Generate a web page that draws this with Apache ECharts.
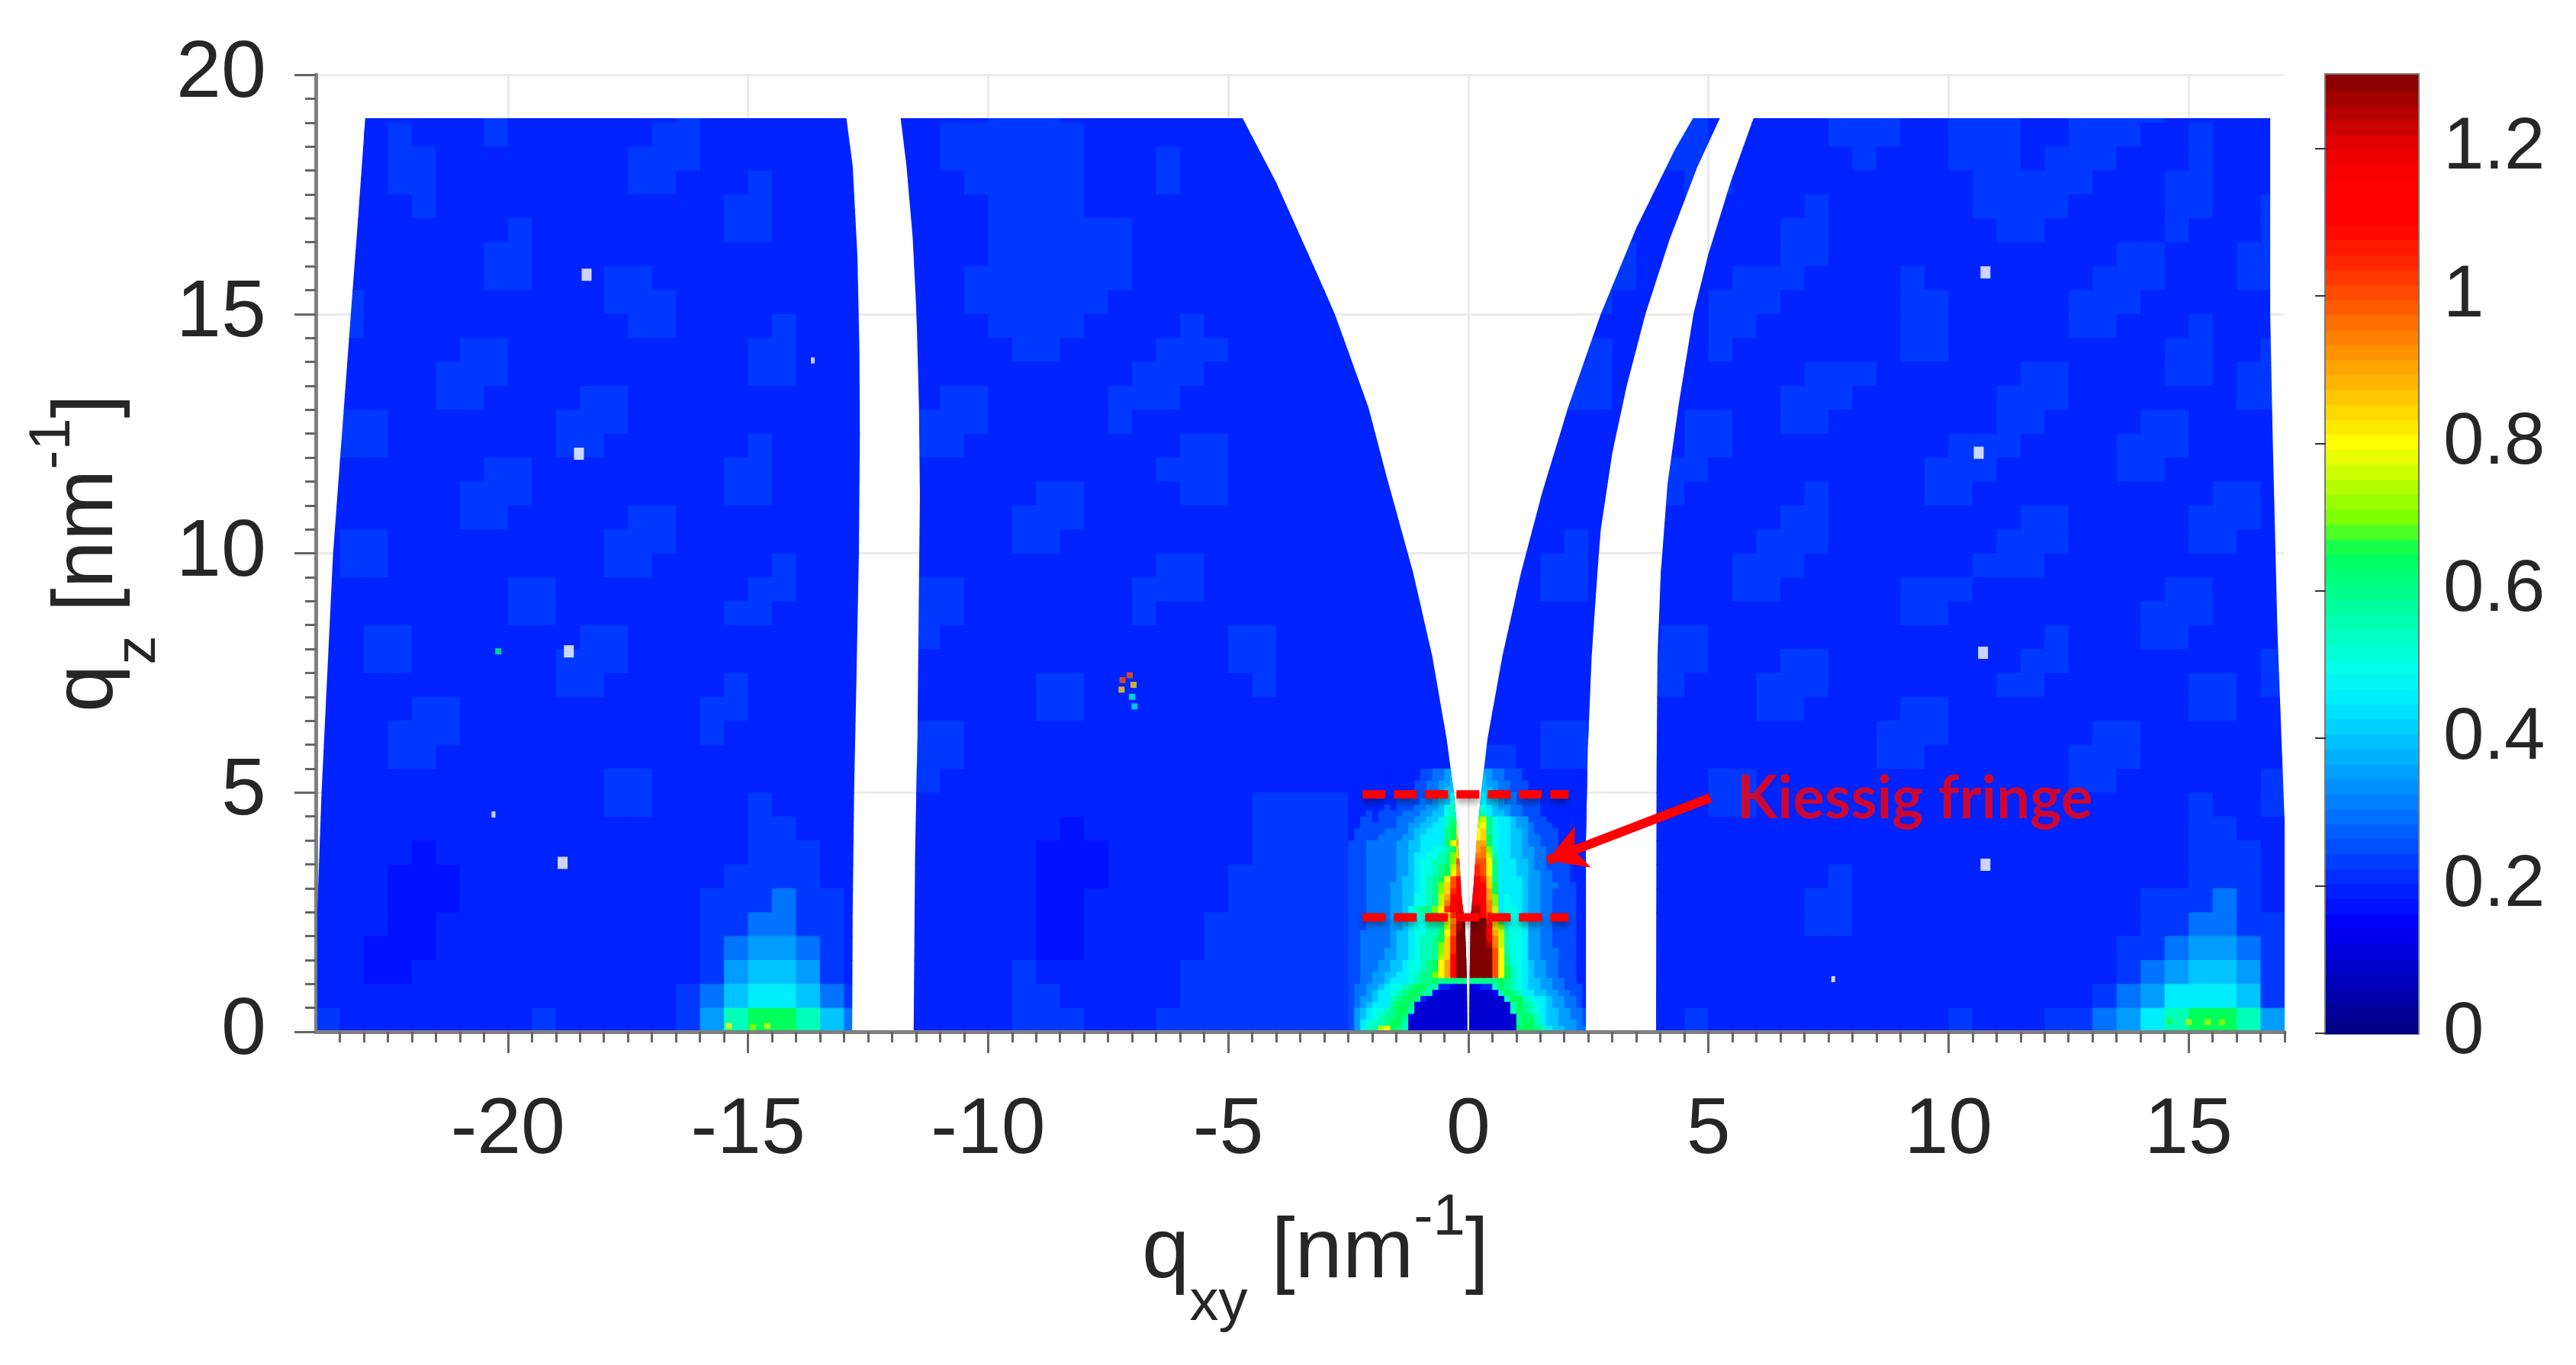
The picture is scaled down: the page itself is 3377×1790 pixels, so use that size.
<!DOCTYPE html>
<html><head><meta charset="utf-8">
<style>html,body{margin:0;padding:0;background:#fff}#c{width:3377px;height:1790px}</style>
<script src="https://cdn.jsdelivr.net/npm/echarts@6/dist/echarts.min.js"></script>
</head><body><div id="c"></div>
<script>
// Estimated mean intensity, one char per cell, top row first.
// Coarse map: 0.5 x 0.5 nm^-1 cells, x from -24, top row is y 19 to 19.5.
const bgLevels = {3:0.175,4:0.2,5:0.225,6:0.3,7:0.35,8:0.4,9:0.45,a:0.5,b:0.55,c:0.6,d:0.65};
const bgRows = [
"4444444544 4444454444 4444444455 5444444444 4444444444 4444445544 4445554455 5445555444 44",
"4445444544 4444554444 4444445555 5544444444 4444444444 4444445544 4445554455 5445554454 44",
"4445544444 4445554444 4444445555 5544454444 4444444444 4444445554 4444544455 5455544454 44",
"4445544444 4445544454 4444444555 5544454444 4444444444 4444444554 4444444445 5555444554 44",
"4444544444 4444444554 4444444455 5544444444 4444444444 4444444544 4454444445 5554444554 45",
"4444444454 4444444554 4444444455 5555444444 4444444444 4444444444 4554444444 5544444544 45",
"4444444554 4444444444 4444444455 5555444444 4444444444 4445544444 4554444444 4444455444 55",
"5444444554 4455444444 4444444555 5555444444 4444444444 4455544445 5544445444 4444555444 55",
"5544444444 4455544444 4444444555 5554444444 4444444444 4455444455 5444445544 4445554444 44",
"5544444444 4445544445 4444444455 5544445444 4444444444 4444444455 4444445544 4445544454 44",
"4444445544 4444444455 4444444445 5444455544 4444444444 4445444454 4444445544 4444444554 45",
"4444455544 4444444455 4444444444 4444555444 4444444444 4455444444 4455544444 4554444554 55",
"4444455444 4554444444 4444445544 4445554444 4444444444 4455444444 4555444444 5554444444 55",
"4554444444 5554444444 4444455544 4445444444 4444444444 4444444554 4554444444 5544445544 44",
"4554444444 5544444454 4444455444 4444445544 4444444444 4444444554 4444444455 5444455544 44",
"4444444554 4444444554 4444444444 4444455544 4444444444 4444455544 4444444555 4444455444 44",
"4444445554 4444444554 4444444444 5544445544 4444444444 4444455444 4454444554 4444444445 54",
"4444445544 4445544444 4444444445 5544444444 4444444444 4444444444 4554444444 4554444455 54",
"4554444444 4455544444 4444444445 5444444444 4444444444 4454444444 5554444444 5554444455 44",
"4554444444 4455444445 4444444444 4444455444 4444444444 4554444445 5544444445 5544444444 44",
"4444444455 4444444455 4444455444 4444555444 4444444444 4554444445 5444445554 4444444554 44",
"4444444455 4444444554 4444555444 4444544444 4444444444 4444444444 4444445544 4444445554 44",
"4455444444 4554444444 4444554444 4444444455 4444444444 4444445544 4444444444 4454445544 44",
"4455444444 5554444444 4444444444 4444444455 4444444444 4444455544 4554444444 4554444444 45",
"4444444444 5544444544 4444444444 5544444445 4444444444 4444455444 5554444444 5544444455 45",
"4444554444 4444445544 4444444444 5544444444 4444444444 4444444444 5544445544 4444444455 44",
"4445554444 4444445444 4444455444 4444444444 4444444444 4554444444 4444455544 4444554444 44",
"4445544444 4444444444 4444555444 4444444444 4444444455 4554444444 4444455444 4445554444 44",
"4444444444 4455444444 4444554444 4444444444 4444445555 4444444455 4444444444 4445544444 45",
"4444444444 4455444454 4444444444 4444444445 5555555555 4444444455 4444444444 4444444454 45",
"4444444444 4444444455 4444444444 4344444445 5555555555 4444444444 4444444444 4444444455 44",
"4444344444 4444444455 5444444444 3334444445 5555555555 4444444444 4444444444 4444444455 54",
"4443334444 4444444555 5444444444 3334444455 5555555555 4444444444 4445444444 4444444455 54",
"4443334444 4444445556 5544444444 3344444455 5555555555 4444444444 4455444444 4444445556 54",
"4443344444 4444445566 5544444444 3344444555 5555555555 4444444444 4455444444 4444445566 55",
"4433344444 4444445677 6544444444 3344444555 5555555555 4445444444 4444444444 4444455677 65",
"4433444444 4444445788 7544444445 4444445555 5555555555 4455444444 4444444444 4444456788 75",
"4444444444 4444456899 8654444445 5444445555 5555555555 4455444444 4444444444 4444567999 85",
"5444444445 4444457bdd b865444445 5544455555 5555555555 5444444544 4444444454 4455679bdd b7"
];
// Fine map near the beam: 0.125 x 0.125 nm^-1 cells, x from -2.5, top row is y 5.375 to 5.5.
// One char = value / 0.05 in base 36.
const hotRows = [
"4444444444 4455667799 9977665554 4444444444",
"4444444444 4455667889 9887665554 4444444444",
"4444444444 4556677899 a987766555 4444444444",
"4444444444 4556678899 a988766555 4444444444",
"4444444445 4556778aab ba98776655 5444444444",
"4444444455 5566788aac ca98876655 5544444444",
"4444445455 566778abcd dca9877665 5544444444",
"4445455556 667788abde edb9887665 5544444444",
"4455455566 677889bcef eefca99877 5554444444",
"4455555566 778899bdfg ffgca99877 6555444444",
"4555556666 788999cdgh gghca99887 6555544444",
"4555566667 789999cdhh gghda99887 6655544444",
"5556666677 889999dgii hiida99887 6655544444",
"5556666677 8899aabdhi iijea99887 7665554444",
"5556666677 899aabcehj jjjfb99887 7665554444",
"5556666677 89aabbcekk kkkgc99988 7665555444",
"5556666677 89aabcdfjl llkgc99988 7665555444",
"5556666677 89aabcdgjl llkgc99988 7766555444",
"5556666678 89abcdgkmm mmlhc99998 7766555444",
"5556666778 89abcehkmn mmmhd99998 7766655544",
"5556666778 89abcehlmn nnmid99998 7766555544",
"5556666778 8aabcfimnn nnnie9a998 7766555544",
"5556666778 8aabcfjnoo oonje9a998 7766555544",
"5556666778 abcceglnoo ppnjf9aa98 7766555544",
"5556666778 9abcdfhlpp qpnkf9aa98 7766555544",
"5556666778 9aabbcfjoq qqqlhdaaa9 7766555544",
"5556666778 9aabbcfkpq qqqmheaaa9 7766555544",
"5566666788 9aabbdgkqq qqqnifbaa9 7766555544",
"5566666788 9abbcdhlqq qqqojfbaa9 7766555544",
"5566666788 9abbcehlqq qqqpjfbaa9 7766555544",
"5566667788 9abbcehlqq qqqqkgbaa9 7766655544",
"5566667788 9abbcfhmqq qqqqkgcaa9 7766655544",
"5566677889 aabcdgimqq qqqqkgcaa9 8776655544",
"5566677889 aabcdgimqq qqqqkgdba9 8776655544",
"5566778899 abccegimqq qqqqkgdba9 8776655544",
"5566778999 abccdccccc cccccdcba9 8877665544",
"5667789aab cddcb44322 2344bdcba9 8877665554",
"5667899abc ddcb322222 22223bdcb9 9887766554",
"5677899bcd dc42222222 222222bddb a998776654",
"5678999cdd c322222222 2222222bdc ba98776654",
"5789aabcdd b222222222 2222222bdc ba98877665",
"5789abccdc 3222222222 22222222cd cb98877665",
"579abbcddb 2222222222 22222222cd db98877765",
"579bbfgdcb 2222222222 22222222dd dcb9887766"
];
// Detector panel outlines [qxy, qz].
const panel1 = [[-23.97,0.03],[-23.97,2.5],[-23.88,5],[-23.64,10],[-23.27,15],[-23.12,17],[-22.97,19.09],[-12.95,19.09],[-12.82,18.1],[-12.72,16.2],[-12.68,14.3],[-12.67,12.5],[-12.69,10],[-12.74,7.45],[-12.79,5],[-12.82,2.45],[-12.83,0.03]];
const panel2 = [[-11.55,0.03],[-11.52,3.7],[-11.47,6.2],[-11.44,9.3],[-11.42,11.2],[-11.44,13.1],[-11.49,15],[-11.57,16.6],[-11.7,18.1],[-11.82,19.09],[-4.7,19.09],[-4,17.75],[-3.13,15.8],[-2.78,15],[-2.08,13.05],[-1.7,11.6],[-1.15,9.6],[-0.75,7.85],[-0.45,6.12],[-0.3,5],[-0.21,4],[-0.13,2.72],[-0.07,2.3],[-0.03,1.2],[-0.02,0.03]];
const panel3 = [[0.02,0.03],[0.03,1.2],[0.05,2.4],[0.11,3.05],[0.19,4.2],[0.27,5],[0.4,6.12],[0.71,7.85],[1.1,9.6],[1.54,11.27],[2.08,13.05],[2.76,15],[3.5,16.8],[4.31,18.45],[4.68,19.09],[5.24,19.09],[4.77,18.07],[4.19,16.55],[3.69,15],[3.3,13.5],[3,12.1],[2.76,10.5],[2.69,9.6],[2.57,7.85],[2.49,5.93],[2.45,4],[2.45,0.03]];
const panel4 = [[3.91,0.03],[3.92,5.3],[3.94,7.85],[4.01,9.6],[4.15,11.45],[4.38,13.1],[4.69,15],[5,16.25],[5.46,17.75],[5.94,19.09],[16.7,19.09],[16.7,15],[16.75,12.5],[16.85,8.4],[17,4.4],[17,0.03]];
// Small features [qxy, qz, value]
const hotSpecks = [[-7.2,7.35,1.0],[-7.05,7.45,1.0],[-6.97,7.25,0.85],[-7.0,7.0,0.55],[-6.95,6.8,0.45],[-7.22,7.15,0.85],[-20.2,7.95,0.62],[-15.4,0.12,0.8],[-14.9,0.1,0.72],[-14.6,0.12,0.78],[14.6,0.22,0.66],[15.0,0.2,0.75],[15.4,0.2,0.75],[15.7,0.2,0.72]];
const deadPixels = [[-18.36,15.82],[-18.52,12.08],[-18.73,7.95],[-18.86,3.53],[10.77,15.87],[10.63,12.1],[10.72,7.92],[10.77,3.49]];
const smallDeadPixels = [[7.6,1.1],[-13.65,14.03],[-20.3,4.54]];
const fringeLines = [[[-2.2,4.96],[2.09,4.96]],[[-2.2,2.39],[2.09,2.39]]];
const arrowFrom = [5.04,4.89], arrowTo = [1.65,3.58];
const annotationAt = [[9.3,4.86]];
const annotationText = "Kiessig fringe";
const xTicks = [-20,-15,-10,-5,0,5,10,15];
const cbTicks = [0,0.2,0.4,0.6,0.8,1,1.2];
const cbColors = ["#00007f","#0000a9","#0000d2","#0000fa","#0023ff","#004cff","#0074ff","#009cff","#00c4ff","#00ecff","#00ffe8","#00ffb9","#00ff8a","#00ff5b","#7dff00","#beff00","#ffff00","#ffd300","#ffa700","#ff7b00","#ff4f00","#ff2300","#ff0000","#ff0000","#ea0000","#b50000","#800000"];

const AX = '#808080', TK = '#666666', GRID = '#ebebeb', TXT = '#262626', FONT = 'Liberation Sans';
function decode(rows, x0, y0, step, val) {
  const out = [];
  rows.forEach((r, ri) => {
    const s = r.replace(/ /g, '');
    const y = y0 + (rows.length - 1 - ri) * step;
    for (let i = 0; i < s.length; i++) out.push([x0 + i * step, y, val(s[i])]);
  });
  return out;
}
const bgCells = decode(bgRows, -24, 0, 0.5, ch => bgLevels[ch]);
const hotCells = decode(hotRows, -2.5, 0, 0.125, ch => parseInt(ch, 36) * 0.05);
const cbBins = 64, cbStep = 1.3 / cbBins;
const cbLevels = Array.from({length: cbBins}, (_, i) => [0, i * cbStep, (i + 0.5) * cbStep]);
const minorX = []; for (let i = -47; i <= 34; i++) if (i % 10) minorX.push(i / 2);

function cellSeries(cells, size, poly) {
  const xs = poly.map(p => p[0]), lo = Math.min(...xs), hi = Math.max(...xs);
  return {
    type: 'custom', coordinateSystem: 'cartesian2d', xAxisIndex: 0, yAxisIndex: 0,
    silent: true, animation: false, progressive: 0, clip: false,
    data: cells.filter(c => c[0] + size > lo && c[0] < hi),
    encode: {x: 0, y: 1},
    renderItem(params, api) {
      const a = api.coord([api.value(0), api.value(1)]);
      const b = api.coord([api.value(0) + size, api.value(1) + size]);
      return {
        type: 'rect',
        shape: {x: a[0], y: b[1], width: b[0] - a[0] + 1, height: a[1] - b[1] + 1},
        style: {fill: api.visual('color')},
        clipPath: {type: 'polygon', shape: {points: poly.map(p => api.coord(p))}}
      };
    }
  };
}
const panels = [panel1, panel2, panel3, panel4];
const series = [];
panels.forEach(p => series.push(cellSeries(bgCells, 0.5, p)));
[panel2, panel3].forEach(p => series.push(cellSeries(hotCells, 0.125, p)));
series.push({
  type: 'scatter', xAxisIndex: 0, yAxisIndex: 0, silent: true, animation: false,
  data: hotSpecks, symbol: 'rect', symbolSize: 8, z: 4, encode: {x: 0, y: 1}
});
series.push({
  type: 'custom', coordinateSystem: 'cartesian2d', xAxisIndex: 2, yAxisIndex: 1, silent: true, animation: false,
  progressive: 0, data: cbLevels, encode: {x: 0, y: 1},
  renderItem(params, api) {
    const a = api.coord([0, api.value(1)]), b = api.coord([1, api.value(1) + cbStep]);
    return {type: 'rect', shape: {x: a[0], y: b[1], width: b[0] - a[0], height: a[1] - b[1] + 1}, style: {fill: api.visual('color')}};
  }
});
const colorSeries = series.map((s, i) => i);
series.push({type: 'scatter', xAxisIndex: 0, yAxisIndex: 0, silent: true, animation: false, data: deadPixels, symbol: 'rect', symbolSize: [13, 16], itemStyle: {color: '#fff'}, z: 4});
series.push({type: 'scatter', xAxisIndex: 0, yAxisIndex: 0, silent: true, animation: false, data: smallDeadPixels, symbol: 'rect', symbolSize: [5, 8], itemStyle: {color: '#fff'}, z: 4});
fringeLines.forEach(l => series.push({
  type: 'line', xAxisIndex: 0, yAxisIndex: 0, silent: true, animation: false, data: l, symbol: 'none', z: 5,
  lineStyle: {color: '#ff0000', width: 11, type: [30, 11], cap: 'butt', shadowColor: 'rgba(0,0,0,0.35)', shadowBlur: 8, shadowOffsetY: 6}
}));
series.push({
  type: 'line', xAxisIndex: 0, yAxisIndex: 0, silent: true, animation: false, data: [arrowFrom, arrowTo], symbol: 'none', z: 6,
  lineStyle: {color: '#ff0000', width: 0},
  markLine: {silent: true, animation: false, symbol: ['none', 'arrow'], symbolSize: [44, 50], label: {show: false},
    lineStyle: {color: '#ff0000', width: 12, type: 'solid'},
    data: [[{coord: arrowFrom}, {coord: arrowTo}]]}
});
series.push({
  type: 'scatter', xAxisIndex: 0, yAxisIndex: 0, silent: true, animation: false, data: annotationAt, symbolSize: 0, z: 7,
  label: {show: true, position: 'inside', formatter: annotationText, color: '#ff0000', fontFamily: 'Lato', fontWeight: 'bold', fontSize: 78}
});

const titleRich = {
  q: {fontSize: 112, fontFamily: FONT, color: TXT, lineHeight: 208, verticalAlign: 'middle'},
  sub: {fontSize: 76, fontFamily: FONT, color: TXT, lineHeight: 208, verticalAlign: 'bottom'},
  sup: {fontSize: 76, fontFamily: FONT, color: TXT, lineHeight: 208, verticalAlign: 'top', padding: [20, 0, 0, 0]}
};
const option = {
  backgroundColor: '#fff',
  animation: false,
  grid: [
    {left: 414, right: 3377 - 2995, top: 98, bottom: 1790 - 1353, containLabel: false, outerBoundsMode: 'none'},
    {left: 3049, right: 3377 - 3170, top: 98, bottom: 1790 - 1355, outerBoundsMode: 'none', show: true, borderColor: '#777', borderWidth: 4, backgroundColor: 'transparent'}
  ],
  visualMap: {show: false, type: 'continuous', min: 0, max: 1.3, dimension: 2, seriesIndex: colorSeries, inRange: {color: cbColors}},
  xAxis: [
    {type: 'value', gridIndex: 0, min: -24, max: 17, position: 'bottom',
     axisLine: {show: true, onZero: false, lineStyle: {color: AX, width: 5}},
     axisTick: {show: true, customValues: xTicks, length: 28, lineStyle: {color: TK, width: 3}},
     axisLabel: {show: true, customValues: xTicks, margin: 78, fontSize: 104, fontFamily: FONT, color: TXT, formatter: v => String(v)},
     splitLine: {show: true, lineStyle: {color: GRID, width: 3}},
     name: '{q|q}{sub|xy}{q| [nm}{sup|-1}{q|]}', nameLocation: 'middle', nameGap: 158,
     nameTextStyle: {rich: titleRich, padding: [0, 0, 0, 40]}},
    {type: 'value', gridIndex: 0, min: -24, max: 17, position: 'bottom',
     axisLine: {show: false}, axisLabel: {show: false}, splitLine: {show: false},
     axisTick: {show: true, customValues: minorX, length: 14, lineStyle: {color: TK, width: 3}}},
    {type: 'value', gridIndex: 1, min: 0, max: 1, show: false}
  ],
  yAxis: [
    {type: 'value', gridIndex: 0, min: 0, max: 20, interval: 5,
     axisLine: {show: true, onZero: false, lineStyle: {color: AX, width: 5}},
     axisTick: {show: true, length: 28, lineStyle: {color: TK, width: 3}},
     minorTick: {show: true, splitNumber: 10, length: 14, lineStyle: {color: TK, width: 3}},
     axisLabel: {margin: 65, fontSize: 106, fontFamily: FONT, color: TXT},
     splitLine: {show: true, lineStyle: {color: GRID, width: 3}},
     name: '{q|q}{sub|z}{q| [nm}{sup|-1}{q|]}', nameLocation: 'middle', nameGap: 194, nameRotate: 90,
     nameTextStyle: {rich: titleRich}},
    {type: 'value', gridIndex: 1, min: 0, max: 1.3, position: 'right',
     axisLine: {show: false},
     axisTick: {show: true, inside: true, customValues: cbTicks, length: 14, lineStyle: {color: '#333', width: 2}},
     axisLabel: {show: true, customValues: cbTicks, margin: 33, fontSize: 96, fontFamily: FONT, color: TXT, formatter: v => String(v)},
     splitLine: {show: false}}
  ],
  series
};
echarts.init(document.getElementById('c'), null, {renderer: 'canvas'}).setOption(option);
</script></body></html>
